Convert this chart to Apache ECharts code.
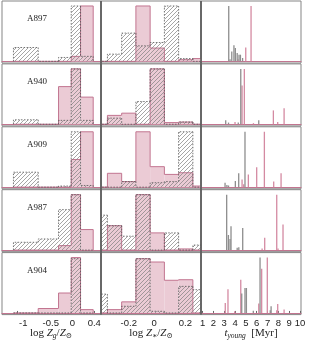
<!DOCTYPE html>
<html><head><meta charset="utf-8">
<script src="https://cdn.jsdelivr.net/npm/echarts@6/dist/echarts.min.js"></script>
<style>html,body{margin:0;padding:0;background:#fff}#c{width:309px;height:349px}</style>
</head><body><div id="c"></div>
<script>
const clusters = ['A897', 'A940', 'A909', 'A987', 'A904'];

// Column 1: log Zg/Zsun histograms (bin edges + normalised heights)
const zgEdges = [-1.07, -0.62, -0.25, -0.02, 0.15, 0.38];
const zgHatched = [
  [0.25, 0, 0.07, 1.0, 0.09],
  [0.08, 0, 0.07, 1.0, 0.07],
  [0.27, 0, 0.02, 1.0, 0.03],
  [0.14, 0.20, 0.73, 1.0, 0],
  [0, 0, 0, 0.98, 0]
];
const zgFilled = [
  [0, 0, 0, 0.09, 1.0],
  [0, 0, 0.68, 1.0, 0.49],
  [0, 0, 0, 0.50, 1.0],
  [0, 0, 0.08, 1.0, 0.37],
  [0, 0.08, 0.36, 1.0, 0.06]
];

// Column 2: log Z*/Zsun histograms
const zsEdges = [-0.389, -0.298, -0.207, -0.116, -0.025, 0.066, 0.157, 0.248, 0.339];
const zsHatched = [
  [0, 0.13, 0.51, 0.28, 0.34, 1.0, 0.05, 0],
  [0, 0.11, 0, 0.41, 1.0, 0, 0.04, 0],
  [0, 0, 0.10, 0, 0.08, 0.10, 1.0, 0],
  [0.63, 0.44, 0.25, 1.0, 0, 0.31, 0, 0.09],
  [0.34, 0, 0.12, 0.98, 0.03, 0, 0.48, 0.42]
];
const zsFilled = [
  [0, 0, 0, 1.0, 0.24, 0, 0.03, 0.05],
  [0, 0.16, 0.20, 0, 1.0, 0.03, 0.04, 0],
  [0, 0.25, 0.10, 1.0, 0.37, 0.23, 0.26, 0.02],
  [0, 0.44, 0, 1.0, 0.31, 0, 0.02, 0],
  [0, 0.06, 0.20, 0.98, 0.92, 0.59, 0.60, 0]
];

// Column 3: t_young [Myr] spikes  [age, height]
const ageGray = [
  [[3.42, 1.0], [3.54, 0.04], [3.70, 0.18], [3.90, 0.29], [4.03, 0.24], [4.20, 0.15], [4.37, 0.12], [4.50, 0.12], [4.70, 0.06]],
  [[3.14, 0.07], [3.40, 0.03], [4.30, 0.03], [4.53, 1.0], [6.19, 0.07]],
  [[3.08, 0.08], [3.25, 0.04], [3.40, 0.03], [4.03, 0.11], [4.34, 0.25], [4.92, 1.0]],
  [[3.23, 1.0], [3.39, 0.27], [3.54, 0.20], [3.63, 0.43], [4.20, 0.04], [4.35, 0.05], [4.71, 0.40]],
  [[4.62, 0.35], [4.92, 0.45], [5.05, 0.45], [5.69, 0.04], [6.31, 1.0], [7.25, 0.05], [7.33, 0.12]]
];
const agePink = [
  [[4.28, 0.04], [4.99, 0.25], [5.48, 1.0]],
  [[4.00, 0.04], [4.65, 0.70], [4.86, 1.0], [5.70, 0.02], [7.54, 0.25], [7.94, 0.04], [8.53, 0.29]],
  [[4.65, 0.14], [4.80, 0.05], [5.23, 0.23], [6.00, 0.36], [6.71, 1.0], [7.57, 0.10], [8.25, 0.25]],
  [[6.50, 0.03], [6.74, 0.22], [7.85, 1.0], [7.97, 0.03], [8.43, 0.46]],
  [[3.10, 0.18], [3.35, 0.43], [3.97, 0.03], [4.53, 0.60], [6.19, 0.17], [6.46, 0.80], [6.98, 1.0], [7.85, 0.05], [7.94, 0.16], [8.53, 0.06]]
];

// tick labels
const zgTicks = [-1, -0.5, 0, 0.4];
const zsTicks = [-0.2, 0, 0.2];
const ageTicks = [1, 2, 3, 4, 5, 6, 7, 8, 9, 10];

// ---------- styling / layout ----------
const PINK_FILL = '#ebcbd5';
const PINK_EDGE = '#c27590';
const GRAY_EDGE = '#555';
const SPIKE_GRAY = '#8e8e8e';
const SPIKE_PINK = '#d48aa2';

const hatch = (function () {
  const c = document.createElement('canvas');
  c.width = 4; c.height = 4;
  const g = c.getContext('2d');
  g.strokeStyle = '#808080'; g.lineWidth = 0.7;
  g.beginPath();
  g.moveTo(-1, 5); g.lineTo(5, -1);
  g.moveTo(-1, 1); g.lineTo(1, -1);
  g.moveTo(3, 5); g.lineTo(5, 3);
  g.stroke();
  return c;
})();

const colLeft = [2, 101, 201];
const colWidth = [99, 100, 100];
const colRange = [[-1.278, 0.522], [-0.339, 0.300], [0.86, 10.09]];
const colTicks = [zgTicks, zsTicks, ageTicks];
const rowTop = r => 1 + 62.9 * r;
const rowH = 62;

const grids = [], xAxes = [], yAxes = [], series = [], graphics = [];

function stepSeries(gi, edges, heights, filled) {
  const data = heights.map((h, i) => [edges[i], edges[i + 1], h]);
  return {
    type: 'custom', xAxisIndex: gi, yAxisIndex: gi, clip: true, silent: true,
    encode: { x: [0, 1], y: 2 }, data,
    renderItem(params, api) {
      const i = params.dataIndex;
      const x0 = api.value(0), x1 = api.value(1), h = api.value(2);
      const hp = i > 0 ? data[i - 1][2] : 0;
      const a = api.coord([x0, h]), b = api.coord([x1, 0]), c = api.coord([x0, hp]);
      const children = [];
      if (h > 0) {
        children.push({
          type: 'rect',
          shape: { x: a[0], y: a[1], width: b[0] - a[0], height: b[1] - a[1] },
          style: { fill: filled ? PINK_FILL : { image: hatch, repeat: 'repeat' } }
        });
      }
      const pts = [[c[0], c[1]], [a[0], a[1]], [b[0], a[1]]];
      if (i === data.length - 1) pts.push([b[0], b[1]]);
      children.push({
        type: 'polyline', shape: { points: pts },
        style: filled ? { fill: null, stroke: PINK_EDGE, lineWidth: 1 }
                      : { fill: null, stroke: GRAY_EDGE, lineWidth: 0.8, lineDash: [1.5, 1.5] }
      });
      return { type: 'group', children };
    }
  };
}

function spikeSeries(gi, pts, color) {
  return {
    type: 'custom', xAxisIndex: gi, yAxisIndex: gi, clip: true, silent: true,
    encode: { x: 0, y: 1 }, data: pts,
    renderItem(params, api) {
      const t = api.value(0), h = api.value(1);
      const a = api.coord([t - 0.06, h]), b = api.coord([t + 0.06, 0]);
      return {
        type: 'rect',
        shape: { x: a[0], y: a[1], width: Math.max(1.2, b[0] - a[0]), height: b[1] - a[1] },
        style: { fill: color }
      };
    }
  };
}

function fmt(v) {
  const s = String(v);
  return v < 0 ? '{n|' + s + '}' : s;
}

for (let r = 0; r < 5; r++) {
  for (let c = 0; c < 3; c++) {
    const gi = r * 3 + c;
    const bottom = r === 4;
    grids.push({ left: colLeft[c], top: rowTop(r), width: colWidth[c], height: rowH,
      show: true, borderColor: '#858585', borderWidth: 1, backgroundColor: 'transparent' });
    xAxes.push({
      type: 'value', gridIndex: gi, min: colRange[c][0], max: colRange[c][1],
      splitLine: { show: false },
      axisLine: { show: true, onZero: true, lineStyle: { color: PINK_EDGE, width: 1 } },
      axisTick: { show: bottom, inside: true, length: 2, customValues: colTicks[c], lineStyle: { color: '#666' } },
      axisLabel: {
        show: bottom, customValues: colTicks[c], margin: 4, formatter: fmt,
        fontSize: 9.5, color: '#222', fontFamily: 'Liberation Sans',
        rich: { n: { fontSize: 9.5, color: '#222', fontFamily: 'Liberation Sans', padding: [0, 0, 0, 12] } }
      }
    });
    yAxes.push({ type: 'value', gridIndex: gi, min: -0.03, max: 1.09, show: false, splitLine: { show: false } });
    if (c === 0) {
      series.push(stepSeries(gi, zgEdges, zgFilled[r], true));
      series.push(stepSeries(gi, zgEdges, zgHatched[r], false));
    } else if (c === 1) {
      series.push(stepSeries(gi, zsEdges, zsFilled[r], true));
      series.push(stepSeries(gi, zsEdges, zsHatched[r], false));
    } else {
      series.push(spikeSeries(gi, agePink[r], SPIKE_PINK));
      series.push(spikeSeries(gi, ageGray[r], SPIKE_GRAY));
    }
  }
  graphics.push({
    type: 'text', x: 37, y: rowTop(r) + 18,
    style: { text: clusters[r], font: '9px "Liberation Serif"', fill: '#222', align: 'center', verticalAlign: 'middle' }
  });
}

// darker column dividers
[101, 201].forEach(x => graphics.push({
  type: 'line', shape: { x1: x, y1: 1, x2: x, y2: rowTop(4) + rowH },
  style: { stroke: '#5a5a5a', lineWidth: 1.6 }, z: 100
}));

const richBase = {
  u: { fontSize: 11, fontFamily: 'Liberation Serif', lineHeight: 14, fill: '#222' },
  i: { fontSize: 11, fontFamily: 'Liberation Serif', fontStyle: 'italic', lineHeight: 14, fill: '#222' },
  s: { fontSize: 7.5, fontFamily: 'Liberation Serif', fontStyle: 'italic', lineHeight: 9, verticalAlign: 'bottom', fill: '#222' },
  su: { fontSize: 7.5, fontFamily: 'DejaVu Serif', lineHeight: 9, verticalAlign: 'bottom', fill: '#222' }
};
graphics.push({ type: 'text', x: 51, y: 333,
  style: { text: '{u|log }{i|Z}{s|g}{u|/}{i|Z}{su|⊙}', rich: richBase, align: 'center', verticalAlign: 'middle' } });
graphics.push({ type: 'text', x: 151, y: 333,
  style: { text: '{u|log }{i|Z}{su|∗}{u|/}{i|Z}{su|⊙}', rich: richBase, align: 'center', verticalAlign: 'middle' } });
graphics.push({ type: 'text', x: 251, y: 333,
  style: { text: '{i|t}{s|young}{u|  [Myr]}', rich: richBase, align: 'center', verticalAlign: 'middle' } });

const chart = echarts.init(document.getElementById('c'), null, { renderer: 'canvas' });
chart.setOption({
  animation: false,
  backgroundColor: '#fff',
  grid: grids, xAxis: xAxes, yAxis: yAxes, series, graphic: graphics
});
</script></body></html>
